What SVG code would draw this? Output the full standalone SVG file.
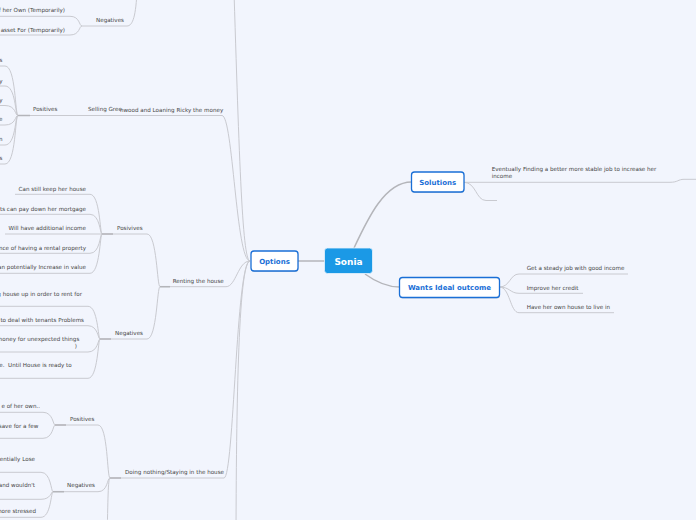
<svg xmlns="http://www.w3.org/2000/svg" width="696" height="520" viewBox="0 0 696 520">
<style>
.ln{fill:none;stroke:#c9cad0;stroke-width:1}
.ul{fill:none;stroke:#cfd0d6;stroke-width:1}
.mn{fill:none;stroke:#b4b5ba;stroke-width:1.5}
.t{font-family:"DejaVu Sans",Verdana,sans-serif;font-size:5.6px;fill:#444;white-space:pre}
.b{font-family:"DejaVu Sans",Verdana,sans-serif;font-size:7px;font-weight:bold;fill:#1a6fd6;text-anchor:middle}
.box{fill:#fff;stroke:#1a6fd6;stroke-width:1.3}
.sh{fill:#000;opacity:.13}
.e{text-anchor:end}
</style>
<rect width="696" height="520" fill="#f2f5fd"/>

<g id="connectors">
  <!-- central -->
  <path class="mn" d="M298 261 H325"/>
  <path class="mn" d="M354 248 C368 218 385 182 411.5 182"/>
  <path class="mn" d="M365 274 C376 282 386 287 399.5 287"/>
  <!-- Solutions -->
  <path class="ln" d="M464 182.3 H670 C678 182.3 678 179.3 684 179.3 H696"/>
  <path class="ln" d="M464 182.3 C476 182.3 476 200.5 486 200.5 H497"/>
  <!-- Wants -->
  <path class="ln" d="M499.5 287 C510 287 510 274 519 274 H628"/>
  <path class="ln" d="M499.5 287 C510 287 510 293.3 519 293.3 H583"/>
  <path class="ln" d="M499.5 287 C510 287 510 312.7 519 312.7 H614"/>
  <!-- Options children -->
  <path class="ln" d="M250 261 C242 261 239 150 233 -40"/>
  <path class="ln" d="M20 115.5 H222 C233 115.5 236 261 250 261"/>
  <path class="ln" d="M160 286.7 H226 C236 286.7 238 261 250 261"/>
  <path class="ln" d="M110 478 H224 C234 478 236 261 250 261"/>
  <path class="ln" d="M250 261 C238 261 236 420 236 560"/>
  <!-- top Negatives -->
  <path class="ln" d="M82 26 H127 C133 26 136 15 137 -10"/>
  <path class="ln" d="M0 16.3 H70 C80 16.3 79 26 82 26"/>
  <path class="ln" d="M0 35 H70 C80 35 79 26 82 26"/>
  <!-- Selling positives -->
  <path class="ln" d="M0 66 H5 C16 66 15 115.5 18 115.5"/>
  <path class="ln" d="M0 86 H5 C16 86 15 115.5 18 115.5"/>
  <path class="ln" d="M0 105.5 H5 C16 105.5 15 115.5 18 115.5"/>
  <path class="ln" d="M0 125 H5 C16 125 15 115.5 18 115.5"/>
  <path class="ln" d="M0 145 H5 C16 145 15 115.5 18 115.5"/>
  <path class="ln" d="M0 164 H5 C16 164 15 115.5 18 115.5"/>
  <path class="mn" d="M18 115.5 H30"/>
  <!-- Renting -->
  <path class="ln" d="M102 234 H147 C157 234 157 286.7 160 286.7"/>
  <path class="ln" d="M100 339 H147 C157 339 157 286.7 160 286.7"/>
  <path class="mn" d="M160 286.7 H170"/>
  <path class="ln" d="M15 194.3 H90 C100 194.3 100 234 102 234"/>
  <path class="ln" d="M0 214.3 H90 C100 214.3 100 234 102 234"/>
  <path class="ln" d="M5 234 H102"/>
  <path class="ln" d="M0 253.3 H90 C100 253.3 100 234 102 234"/>
  <path class="ln" d="M0 273.3 H90 C100 273.3 100 234 102 234"/>
  <path class="mn" d="M102 234 H113"/>
  <path class="ln" d="M0 306.3 H88 C98 306.3 98 339 100 339"/>
  <path class="ln" d="M0 325.7 H88 C98 325.7 98 339 100 339"/>
  <path class="ln" d="M0 352 H88 C98 352 98 339 100 339"/>
  <path class="ln" d="M0 378.3 H88 C98 378.3 98 339 100 339"/>
  <path class="mn" d="M100 339 H111"/>
  <!-- Doing nothing -->
  <path class="ln" d="M55 425 H98 C108 425 107 478 110 478"/>
  <path class="ln" d="M53 491.7 H98 C108 491.7 107 478 110 478"/>
  <path class="ln" d="M110 478 C108 478 108 500 107 540"/>
  <path class="mn" d="M110 478 H121"/>
  <path class="ln" d="M0 412.3 H43 C53 412.3 53 425 55 425"/>
  <path class="ln" d="M0 438.3 H43 C53 438.3 53 425 55 425"/>
  <path class="mn" d="M55 425 H66"/>
  <path class="ln" d="M0 472.3 H41 C51 472.3 51 491.7 53 491.7"/>
  <path class="ln" d="M0 499.3 H41 C51 499.3 51 491.7 53 491.7"/>
  <path class="ln" d="M0 517.3 H41 C51 517.3 51 491.7 53 491.7"/>
  <path class="mn" d="M53 491.7 H64"/>
</g>

<g id="sonia">
  <rect x="324.5" y="248" width="48" height="25.5" rx="3" fill="#1b99e6" stroke="#e8f3fd" stroke-width="0.8"/>
  <text x="348.5" y="264.8" font-family="DejaVu Sans,Verdana,sans-serif" font-size="9" font-weight="bold" fill="#fff" text-anchor="middle">Sonia</text>
</g>
<g id="options">
  <rect class="sh" x="251.5" y="252" width="47" height="20" rx="3"/>
  <rect class="box" x="251" y="251" width="47" height="20" rx="3"/>
  <text class="b" x="274.5" y="264">Options</text>
</g>
<g id="solutions">
  <rect class="sh" x="412" y="173" width="52.5" height="20" rx="3"/>
  <rect class="box" x="411.5" y="172" width="52.5" height="20" rx="3"/>
  <text class="b" x="437.7" y="184.8">Solutions</text>
</g>
<g id="wants">
  <rect class="sh" x="400" y="278.5" width="100" height="20" rx="3"/>
  <rect class="box" x="399.5" y="277.5" width="100" height="20" rx="3"/>
  <text class="b" x="449.5" y="289.8">Wants Ideal outcome</text>
</g>

<g id="sol-job"><text class="t" x="491.7" y="171">Eventually Finding a better more stable job to increase her</text><text class="t" x="491.7" y="177.7">income</text></g>
<g id="sol-empty"/>
<g id="w-job"><text class="t" x="526.7" y="270">Get a steady job with good income</text></g>
<g id="w-credit"><text class="t" x="526.7" y="290">Improve her credit</text></g>
<g id="w-house"><text class="t" x="526.7" y="308.7">Have her own house to live in</text></g>

<g id="top-neg"><text class="t" x="96" y="22">Negatives</text></g>
<g id="top-neg-1"><text class="t e" x="65" y="12">f her Own (Temporarily)</text></g>
<g id="top-neg-2"><text class="t e" x="65" y="32">asset For (Temporarily)</text></g>

<g id="selling"><text class="t" x="88" y="111">Selling Gree</text><text class="t" x="120" y="112">nwood and Loaning Ricky the money</text></g>
<g id="sell-pos"><text class="t" x="33" y="111">Positives</text></g>
<g id="sell-pos-items">
  <text class="t e" x="2.5" y="62">s</text>
  <text class="t e" x="2.5" y="82.5">y</text>
  <text class="t e" x="2.5" y="102">y</text>
  <text class="t e" x="2.5" y="121">e</text>
  <text class="t e" x="2.5" y="140.5">n</text>
  <text class="t e" x="2.5" y="159.5">s</text>
</g>

<g id="renting"><text class="t" x="172.7" y="283">Renting the house</text></g>
<g id="rent-pos"><text class="t" x="117" y="230">Posivives</text></g>
<g id="rent-pos-1"><text class="t e" x="86" y="191">Can still keep her house</text></g>
<g id="rent-pos-2"><text class="t e" x="86" y="210.5">ts can pay down her mortgage</text></g>
<g id="rent-pos-3"><text class="t e" x="86" y="230">Will have additional income</text></g>
<g id="rent-pos-4"><text class="t e" x="86" y="249.5">nce of having a rental property</text></g>
<g id="rent-pos-5"><text class="t e" x="86" y="269.3">an potentially Increase in value</text></g>
<g id="rent-neg"><text class="t" x="115" y="335">Negatives</text></g>
<g id="rent-neg-1"><text class="t e" x="82" y="296">g house up in order to rent for</text></g>
<g id="rent-neg-2"><text class="t e" x="84" y="322">to deal with tenants Problems</text></g>
<g id="rent-neg-3"><text class="t e" x="79.3" y="341">money for unexpected things</text><text class="t e" x="77" y="347.8">)</text></g>
<g id="rent-neg-4"><text class="t e" x="71.7" y="367">e.  Until House is ready to</text></g>

<g id="doing"><text class="t" x="125" y="474">Doing nothing/Staying in the house</text></g>
<g id="do-pos"><text class="t" x="70" y="421">Positives</text></g>
<g id="do-pos-1"><text class="t e" x="40" y="407.7">e of her own..</text></g>
<g id="do-pos-2"><text class="t e" x="38.3" y="428">save for a few</text></g>
<g id="do-neg"><text class="t" x="67" y="487">Negatives</text></g>
<g id="do-neg-1"><text class="t e" x="35" y="461">tentially Lose</text></g>
<g id="do-neg-2"><text class="t e" x="35" y="486.5">and wouldn't</text></g>
<g id="do-neg-3"><text class="t e" x="36" y="512.8">more stressed</text></g>
</svg>
